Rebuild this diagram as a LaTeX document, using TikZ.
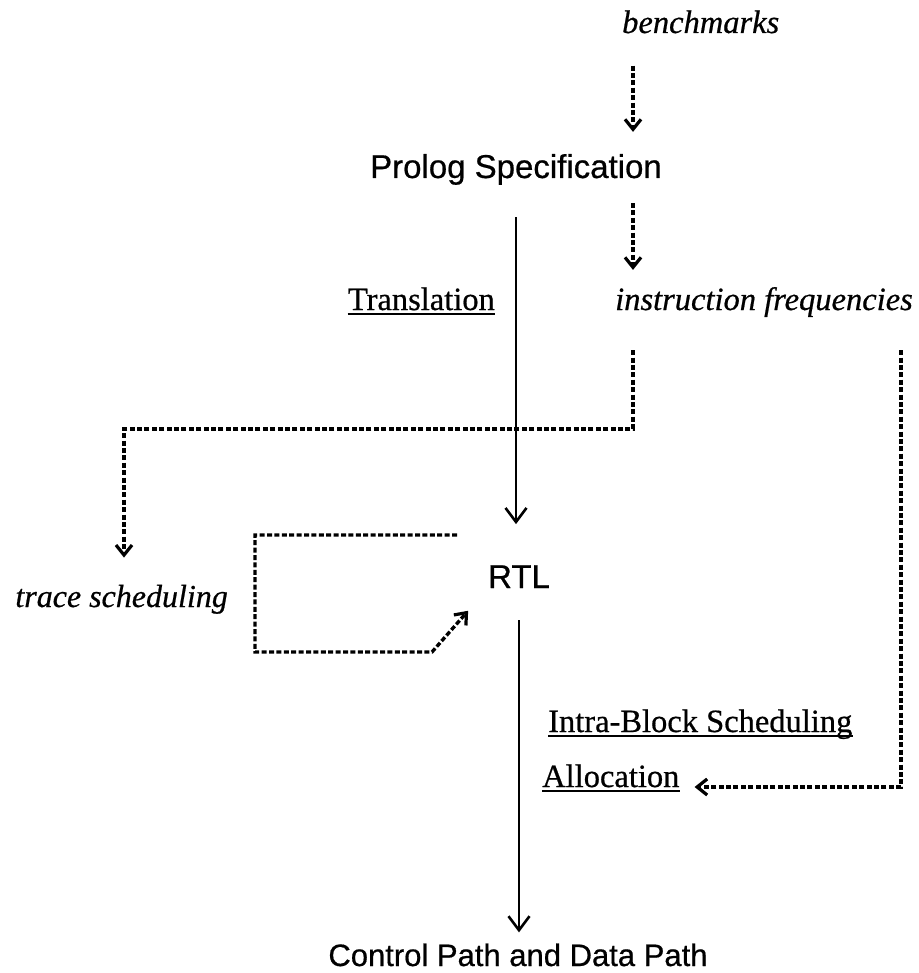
\documentclass[tikz,border=0pt]{standalone}
\usepackage{fontspec}
\setmainfont[FakeBold=0.6]{Liberation Serif}
\newfontfamily\sansfnt[FakeBold=0.6]{Liberation Sans}
\usetikzlibrary{arrows.meta,calc}
\begin{document}
\begin{tikzpicture}[x=1pt,y=-1pt,
  sanslbl/.style={inner sep=0pt, font=\sansfnt\fontsize{33}{38}\selectfont},
  itlbl/.style={inner sep=0pt, font=\itshape\fontsize{32.5}{38}\selectfont},
  rmlbl/.style={inner sep=0pt, font=\fontsize{32.5}{38}\selectfont},
  flow/.style={line width=2.6pt, -{Straight Barb[length=14pt,width=21pt,line width=2.6pt]}},
  dflow/.style={line width=3.4pt, dash pattern=on 5pt off 2.4pt, -{Straight Barb[length=10pt,width=16pt,line width=3.2pt]}},
  uline/.style={line width=2.2pt}]
\useasboundingbox (0,0) rectangle (918,973);

% nodes
\node[itlbl, anchor=base west] (bench) at (622,33) {benchmarks};
\node[sanslbl, anchor=base] (prolog) at (516,178) {Prolog Specification};
\node[rmlbl, anchor=base east] (trans) at (495,310) {Translation};
\node[itlbl, anchor=base west] (instr) at (615,310) {instruction frequencies};
\node[itlbl, anchor=base east, font=\itshape\fontsize{32}{38}\selectfont] (trace) at (228,607) {trace scheduling};
\node[sanslbl, anchor=base] (rtl) at (519,588) {RTL};
\node[rmlbl, anchor=base west] (intra) at (548,732) {Intra-Block Scheduling};
\node[rmlbl, anchor=base west] (alloc) at (542,787) {Allocation};
\node[sanslbl, anchor=base, font=\sansfnt\fontsize{31}{36}\selectfont] (ctrl) at (518,966) {Control Path and Data Path};

% underlines
\foreach \n in {trans,intra,alloc}
  \draw[uline] ([yshift=-4pt]\n.base west) -- ([yshift=-4pt]\n.base east);

% helper coordinates
\coordinate (cx) at (633,0);
\coordinate (rx) at (901,0);
\coordinate (j1) at (124,429);
\coordinate (ls) at (457,535);

% solid flow
\draw[flow, shorten <=32pt, shorten >=41pt] (prolog.south) -- (prolog.south |- rtl.north);
\draw[flow, shorten <=32pt, shorten >=11pt] (rtl.south) -- (rtl.south |- ctrl.north);

% dashed flows
\draw[dflow, shorten <=32pt, shorten >=22pt] (bench.south -| cx) -- (prolog.north -| cx);
\draw[dflow, shorten <=18pt, shorten >=17pt] (prolog.south -| cx) -- (instr.north -| cx);
\draw[dflow, shorten <=33pt, shorten >=27pt] (instr.south -| cx) |- (j1) -- (j1 |- trace.north);
\draw[dflow, shorten >=30pt] (ls) -- ++(-202,0) -- ++(0,117) -- ++(177,0) -- (rtl.south west);
\draw[dflow, shorten <=33pt, shorten >=15pt] (instr.south -| rx) |- (alloc.base east);
\end{tikzpicture}
\end{document}
